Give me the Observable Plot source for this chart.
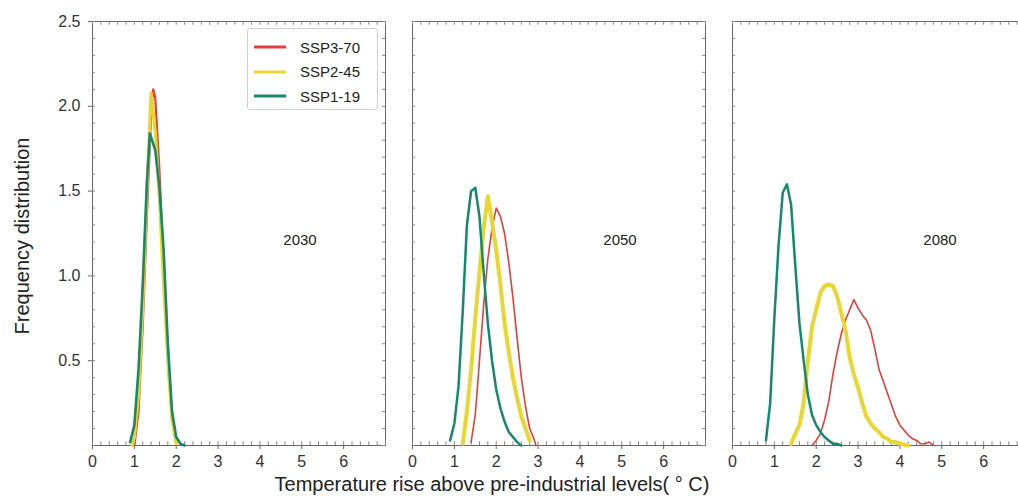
<!DOCTYPE html>
<html><head><meta charset="utf-8">
<script src="https://cdn.jsdelivr.net/npm/d3@7"></script>
<script src="https://cdn.jsdelivr.net/npm/@observablehq/plot@0.6"></script>
<style>
html,body{margin:0;padding:0;background:#fff;overflow:hidden;}
#wrap{position:relative;width:1018px;height:497px;overflow:hidden;font-family:"Liberation Sans",Arial,sans-serif;color:#222;}
#chart{position:absolute;left:0;top:0;width:1030px;}
#chart svg{max-width:none !important;}
#ytitle{position:absolute;left:22px;top:236px;transform:translate(-50%,-50%) rotate(-90deg);font-size:20px;white-space:nowrap;}
#xtitle{position:absolute;left:492px;top:484px;transform:translate(-50%,-50%);font-size:20px;white-space:nowrap;}
#legend{position:absolute;left:247px;top:28px;width:131px;height:82px;border:1px solid #d0d0d0;border-radius:3px;background:#fff;box-sizing:border-box;}
.lrow{position:absolute;left:5px;height:20px;display:flex;align-items:center;font-size:15px;}
.lrow svg{margin-right:13px;}
</style></head>
<body>
<div id="wrap">
  <div id="chart"></div>
  <div id="ytitle">Frequency distribution</div>
  <div id="xtitle">Temperature rise above pre-industrial levels( ° C)</div>
  <div id="legend"></div>
</div>
<script>
// ---- data ----
const years = ["2030", "2050", "2080"];
const scenarios = ["SSP3-70", "SSP2-45", "SSP1-19"];
const colors = ["#e0403c", "#e8d733", "#16896d"];
const xTicks = [0, 1, 2, 3, 4, 5, 6];
const yTicks = [0.5, 1.0, 1.5, 2.0, 2.5];

// [temperature rise, frequency]
const ssp370_2030 = [[1.0,0.0],[1.1,0.2],[1.2,0.7],[1.3,1.35],[1.4,1.95],[1.45,2.1],[1.5,2.05],[1.6,1.62],[1.7,1.05],[1.8,0.5],[1.9,0.15],[2.0,0.02]];
const ssp245_2030 = [[0.95,0.0],[1.0,0.05],[1.1,0.3],[1.2,0.82],[1.3,1.5],[1.4,2.08],[1.5,1.85],[1.6,1.45],[1.7,0.95],[1.8,0.5],[1.9,0.15],[2.0,0.01]];
const ssp119_2030 = [[0.9,0.02],[1.0,0.12],[1.1,0.45],[1.2,0.95],[1.3,1.55],[1.37,1.84],[1.5,1.74],[1.6,1.52],[1.7,1.15],[1.8,0.6],[1.9,0.2],[2.0,0.05],[2.1,0.01],[2.2,0.0]];

const ssp370_2050 = [[1.4,0.02],[1.5,0.18],[1.6,0.5],[1.7,0.83],[1.8,1.1],[1.9,1.28],[2.0,1.4],[2.1,1.35],[2.2,1.25],[2.3,1.08],[2.4,0.87],[2.5,0.63],[2.6,0.4],[2.7,0.23],[2.8,0.1],[2.9,0.04],[2.95,0.0]];
const ssp245_2050 = [[1.2,0.01],[1.3,0.2],[1.4,0.45],[1.5,0.75],[1.6,1.02],[1.7,1.28],[1.8,1.47],[1.9,1.32],[2.0,1.15],[2.1,0.95],[2.2,0.72],[2.3,0.55],[2.4,0.4],[2.5,0.28],[2.6,0.17],[2.7,0.1],[2.8,0.03]];
const ssp119_2050 = [[0.9,0.03],[1.0,0.13],[1.1,0.35],[1.2,0.79],[1.3,1.3],[1.4,1.5],[1.5,1.52],[1.6,1.35],[1.7,1.02],[1.8,0.72],[1.9,0.5],[2.0,0.33],[2.1,0.22],[2.2,0.14],[2.3,0.08],[2.4,0.05],[2.5,0.02],[2.6,0.0]];

const ssp370_2080 = [[1.9,0.0],[2.0,0.03],[2.1,0.07],[2.2,0.15],[2.3,0.26],[2.4,0.42],[2.5,0.55],[2.6,0.66],[2.7,0.74],[2.8,0.8],[2.9,0.86],[3.0,0.81],[3.1,0.77],[3.2,0.74],[3.3,0.68],[3.4,0.57],[3.5,0.45],[3.6,0.38],[3.7,0.31],[3.8,0.24],[3.9,0.17],[4.0,0.12],[4.1,0.09],[4.2,0.06],[4.3,0.04],[4.4,0.03],[4.5,0.01],[4.6,0.01],[4.7,0.02],[4.8,0.0]];
const ssp245_2080 = [[1.4,0.01],[1.5,0.07],[1.6,0.12],[1.7,0.25],[1.8,0.5],[1.9,0.7],[2.0,0.8],[2.1,0.9],[2.2,0.94],[2.3,0.95],[2.4,0.94],[2.5,0.88],[2.6,0.78],[2.7,0.68],[2.8,0.52],[2.9,0.42],[3.0,0.34],[3.1,0.25],[3.2,0.17],[3.3,0.13],[3.4,0.1],[3.5,0.08],[3.6,0.05],[3.7,0.04],[3.8,0.02],[3.9,0.02],[4.0,0.01],[4.2,0.0]];
const ssp119_2080 = [[0.8,0.03],[0.9,0.25],[1.0,0.75],[1.1,1.18],[1.2,1.49],[1.3,1.54],[1.4,1.42],[1.5,1.06],[1.6,0.72],[1.7,0.5],[1.8,0.3],[1.9,0.18],[2.0,0.12],[2.1,0.08],[2.2,0.05],[2.3,0.03],[2.4,0.01],[2.5,0.01],[2.6,0.0]];

const seriesTable = {
  "SSP3-70": {"2030": ssp370_2030, "2050": ssp370_2050, "2080": ssp370_2080},
  "SSP2-45": {"2030": ssp245_2030, "2050": ssp245_2050, "2080": ssp245_2080},
  "SSP1-19": {"2030": ssp119_2030, "2050": ssp119_2050, "2080": ssp119_2080}
};
// line widths per scenario: [first panel, later panels]
const widthTable = {"SSP3-70": [2.2, 1.6], "SSP2-45": [3.2, 4], "SSP1-19": [2.6, 2.5]};

const rowsFor = s => years.flatMap(yr => seriesTable[s][yr].map(([t, f]) => ({year: yr, scenario: s, t, f})));

const xMinor = d3.range(0, 7.001, 0.2);
const yMinor = d3.range(0, 2.5001, 0.1);

const lineMarks = scenarios.map((s, i) =>
  Plot.line(rowsFor(s), {x: "t", y: "f", fx: "year", z: "year", stroke: colors[i],
    strokeWidth: d => d.year === "2030" ? widthTable[s][0] : widthTable[s][1],
    strokeLinejoin: "round", strokeLinecap: "round"})
);

const chart = Plot.plot({
  width: 1030,
  height: 497,
  marginLeft: 91,
  marginRight: 5,
  marginTop: 21,
  marginBottom: 52,
  style: {fontFamily: "'Liberation Sans', Arial, sans-serif", fontSize: "16px", color: "#333", background: "#fff", maxWidth: "none"},
  fx: {domain: years, paddingInner: 0.0858, paddingOuter: 0, axis: null, label: null},
  x: {domain: [0, 7], label: null},
  y: {domain: [0, 2.5], label: null},
  marks: [
    Plot.frame({stroke: "#666", strokeWidth: 1}),
    Plot.ruleX(xMinor, {x: d => d, y1: 0, y2: 0.022, stroke: "#888"}),
    Plot.ruleX(xMinor, {x: d => d, y1: 2.5, y2: 2.478, stroke: "#888"}),
    Plot.ruleY(yMinor, {y: d => d, x1: 0, x2: 0.07, stroke: "#888"}),
    Plot.ruleY(yMinor, {y: d => d, x1: 7, x2: 6.93, stroke: "#888"}),
    Plot.axisX({ticks: xTicks, tickSize: 4, tickPadding: 6, tickFormat: d3.format("d"), fontSize: 16, stroke: "#666"}),
    Plot.axisY({ticks: yTicks, tickSize: 4, tickPadding: 8, tickFormat: d3.format(".1f"), fontSize: 16, stroke: "#666"}),
    ...lineMarks,
    Plot.text(years, {fx: d => d, text: d => d, frameAnchor: "middle", dx: 61, dy: 7, fontSize: 15, fill: "#222"})
  ]
});
chart.style.maxWidth = "none";
document.getElementById("chart").appendChild(chart);

// legend
const legend = document.getElementById("legend");
scenarios.forEach((s, i) => {
  const row = document.createElement("div");
  row.className = "lrow";
  row.style.top = (8 + i * 24.5) + "px";
  row.innerHTML = `<svg width="34" height="8"><line x1="1" y1="4" x2="33" y2="4" stroke="${colors[i]}" stroke-width="3"/></svg><span>${s}</span>`;
  legend.appendChild(row);
});
</script>
</body></html>
